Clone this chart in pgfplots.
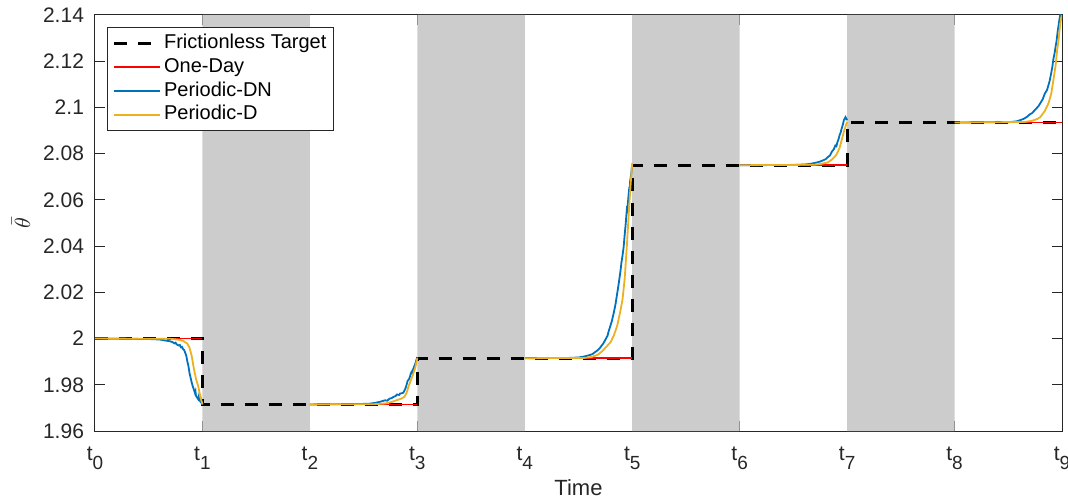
\documentclass[border=0pt]{standalone}
\usepackage{pgfplots}
\pgfplotsset{compat=1.18}
\usepackage{fontspec}
\setmainfont{Liberation Sans}
\definecolor{bandgray}{rgb}{0.8,0.8,0.8}
\definecolor{axcol}{rgb}{0.15,0.15,0.15}
\definecolor{mblue}{rgb}{0,0.447,0.741}
\definecolor{morange}{rgb}{0.929,0.694,0.125}
\newcommand{\tl}[1]{t\raisebox{-4.5pt}{\fontsize{9.5}{9.5}\selectfont #1}}
\begin{document}
\begin{tikzpicture}
\begin{axis}[
  at={(0,0)}, anchor=south west,
  scale only axis, width=483.5pt, height=208pt,
  xmin=0, xmax=9, ymin=1.96, ymax=2.14,
  xtick={0,1,2,3,4,5,6,7,8,9},
  xticklabels={\tl{0},\tl{1},\tl{2},\tl{3},\tl{4},\tl{5},\tl{6},\tl{7},\tl{8},\tl{9}},
  ytick={1.96,1.98,2,2.02,2.04,2.06,2.08,2.1,2.12,2.14},
  yticklabels={1.96,1.98,2,2.02,2.04,2.06,2.08,2.1,2.12,2.14},
  tick align=inside, tick pos=both,
  major tick length=5pt,
  every tick/.style={axcol, line width=0.5pt},
  axis line style={axcol, line width=0.5pt},
  tick label style={font=\fontsize{10.5}{12}\selectfont, text=axcol},
  xticklabel style={yshift=-4.5pt},
  yticklabel style={xshift=-2pt},
  /pgf/number format/assume math mode=true,
  unbounded coords=jump,
  xlabel={Time},
  ylabel={$\bar{\theta}$},
  every axis x label/.style={at={(rel axis cs:0.5,-0.137)}, anchor=center, font=\fontsize{11}{13}\selectfont, text=axcol},
  every axis y label/.style={at={(rel axis cs:-0.0765,0.5)}, anchor=center, rotate=90, font=\fontsize{11}{13}\selectfont, text=axcol},
  legend cell align=left,
  legend image code/.code={\draw[#1] (0pt,0pt) -- (23pt,0pt);},
  legend style={at={(rel axis cs:0,1)}, anchor=north west, xshift=6pt, yshift=-6pt,
    draw=axcol, line width=0.5pt, fill=white,
    font=\fontsize{10}{11}\selectfont,
    nodes={inner sep=1.2pt, text height=7.3pt, text depth=2.2pt},
    inner xsep=2.5pt, inner ysep=2pt},
]
\addplot[fill=bandgray, draw=none, forget plot] coordinates {(1,1.96)(2,1.96)(2,2.14)(1,2.14)} \closedcycle;
\addplot[fill=bandgray, draw=none, forget plot] coordinates {(3,1.96)(4,1.96)(4,2.14)(3,2.14)} \closedcycle;
\addplot[fill=bandgray, draw=none, forget plot] coordinates {(5,1.96)(6,1.96)(6,2.14)(5,2.14)} \closedcycle;
\addplot[fill=bandgray, draw=none, forget plot] coordinates {(7,1.96)(8,1.96)(8,2.14)(7,2.14)} \closedcycle;

\addplot[black, line width=1.6pt, dash pattern=on 6.5pt off 5.5pt] coordinates {
(0,2.0)(1,2.0)(1,1.9715)(3,1.9715)(3,1.9915)(5,1.9915)(5,2.075)(7,2.075)(7,2.0935)(9,2.0935)};
\addlegendentry{Frictionless Target}

\addplot[red, line width=0.9pt] coordinates {
(0,2.0)(1,2.0)(1.5,nan)(2,1.9715)(3,1.9715)(3.5,nan)(4,1.9915)(5,1.9915)(5.5,nan)(6,2.075)(7,2.075)(7.5,nan)(8,2.0935)(9,2.0935)};
\addlegendentry{One-Day}

\addplot[mblue, line width=0.9pt] coordinates {
(0,2.0000)(0.3,1.9999)(0.5,1.9998)(0.6,1.9996)(0.65,1.9992)(0.7,1.9988)(0.72,1.9985)(0.74,1.9979)(0.75,1.9982)(0.76,1.9975)(0.78,1.9970)(0.79,1.9972)(0.8,1.9962)(0.81,1.9964)(0.82,1.9954)(0.83,1.9950)(0.84,1.9938)(0.85,1.9925)(0.86,1.9900)(0.87,1.9880)(0.88,1.9850)(0.89,1.9830)(0.9,1.9810)(0.91,1.9793)(0.92,1.9780)(0.93,1.9765)(0.935,1.9772)(0.94,1.9752)(0.95,1.9745)(0.96,1.9738)(0.965,1.9748)(0.97,1.9735)(0.98,1.9728)(0.985,1.9736)(0.99,1.9725)(1.0,1.9715)
(1.5,nan)
(2,1.9715)(2.4,1.9716)(2.55,1.9718)(2.6,1.9721)(2.65,1.9726)(2.7,1.9733)(2.72,1.9731)(2.74,1.9740)(2.76,1.9742)(2.78,1.9748)(2.8,1.9752)(2.81,1.9758)(2.83,1.9756)(2.84,1.9762)(2.86,1.9764)(2.87,1.9766)(2.88,1.9775)(2.89,1.9785)(2.9,1.9800)(2.91,1.9818)(2.92,1.9822)(2.93,1.9833)(2.94,1.9850)(2.95,1.9858)(2.955,1.9850)(2.96,1.9866)(2.97,1.9878)(2.98,1.9890)(2.99,1.9905)(3.0,1.9920)
(3.5,nan)
(4,1.9915)(4.4,1.9916)(4.5,1.9918)(4.55,1.9922)(4.6,1.9928)(4.63,1.9933)(4.65,1.9940)(4.68,1.9950)(4.7,1.9960)(4.73,1.9978)(4.75,1.9995)(4.77,2.0012)(4.78,2.0030)(4.8,2.0060)(4.81,2.0075)(4.83,2.0115)(4.845,2.0150)(4.86,2.0195)(4.875,2.0240)(4.89,2.0290)(4.9,2.0330)(4.91,2.0360)(4.92,2.0396)(4.93,2.0450)(4.94,2.0500)(4.95,2.0560)(4.955,2.0555)(4.96,2.0590)(4.97,2.0640)(4.975,2.0635)(4.98,2.0680)(4.99,2.0710)(5.0,2.0755)
(5.5,nan)
(6,2.0750)(6.5,2.0751)(6.6,2.0753)(6.66,2.0756)(6.72,2.0762)(6.75,2.0766)(6.78,2.0772)(6.8,2.0776)(6.82,2.0785)(6.84,2.0792)(6.86,2.0810)(6.875,2.0818)(6.89,2.0835)(6.9,2.0832)(6.91,2.0850)(6.92,2.0862)(6.93,2.0880)(6.94,2.0892)(6.95,2.0910)(6.96,2.0925)(6.97,2.0945)(6.985,2.0958)(7.0,2.0945)
(7.5,nan)
(8,2.0935)(8.5,2.0936)(8.58,2.0940)(8.64,2.0950)(8.67,2.0958)(8.7,2.0970)(8.72,2.0975)(8.75,2.0990)(8.78,2.1005)(8.8,2.1020)(8.82,2.1035)(8.84,2.1060)(8.86,2.1075)(8.87,2.1090)(8.885,2.1115)(8.9,2.1150)(8.91,2.1175)(8.92,2.1210)(8.93,2.1232)(8.94,2.1262)(8.95,2.1290)(8.96,2.1330)(8.975,2.1378)(8.99,2.1420)(9.0,2.1450)};
\addlegendentry{Periodic-DN}

\addplot[morange, line width=0.9pt] coordinates {
(0,2.0)(0.7,1.9999)(0.78,1.9995)(0.82,1.9990)(0.86,1.9978)(0.88,1.9960)(0.9,1.9925)(0.92,1.9870)(0.94,1.9825)(0.96,1.9795)(0.98,1.9750)(1.0,1.9715)
(1.5,nan)
(2,1.9715)(2.6,1.9716)(2.7,1.9719)(2.75,1.9724)(2.8,1.9732)(2.85,1.9740)(2.88,1.9748)(2.9,1.9765)(2.92,1.9795)(2.94,1.9820)(2.96,1.9845)(2.98,1.9873)(3.0,1.9915)
(3.5,nan)
(4,1.9915)(4.55,1.9916)(4.62,1.9920)(4.68,1.9930)(4.72,1.9945)(4.76,1.9965)(4.8,1.9985)(4.83,2.0015)(4.86,2.0055)(4.89,2.0120)(4.91,2.0170)(4.93,2.0260)(4.95,2.0400)(4.97,2.0560)(4.99,2.0700)(5.0,2.0760)
(5.5,nan)
(6,2.075)(6.7,2.0752)(6.76,2.0756)(6.82,2.0762)(6.86,2.0775)(6.9,2.0795)(6.93,2.0825)(6.95,2.0860)(6.97,2.0895)(6.99,2.0925)(7.0,2.0937)
(7.5,nan)
(8,2.0935)(8.65,2.0937)(8.72,2.0942)(8.77,2.0950)(8.8,2.0959)(8.84,2.0985)(8.875,2.1019)(8.9,2.1060)(8.92,2.1119)(8.94,2.1180)(8.955,2.1249)(8.97,2.1300)(8.98,2.1348)(8.99,2.1380)(9.0,2.1400)};
\addlegendentry{Periodic-D}
\end{axis}
\pgfresetboundingbox
\path[use as bounding box] (-47.5pt,-35.5pt) rectangle (486.5pt,215.5pt);
\end{tikzpicture}
\end{document}
